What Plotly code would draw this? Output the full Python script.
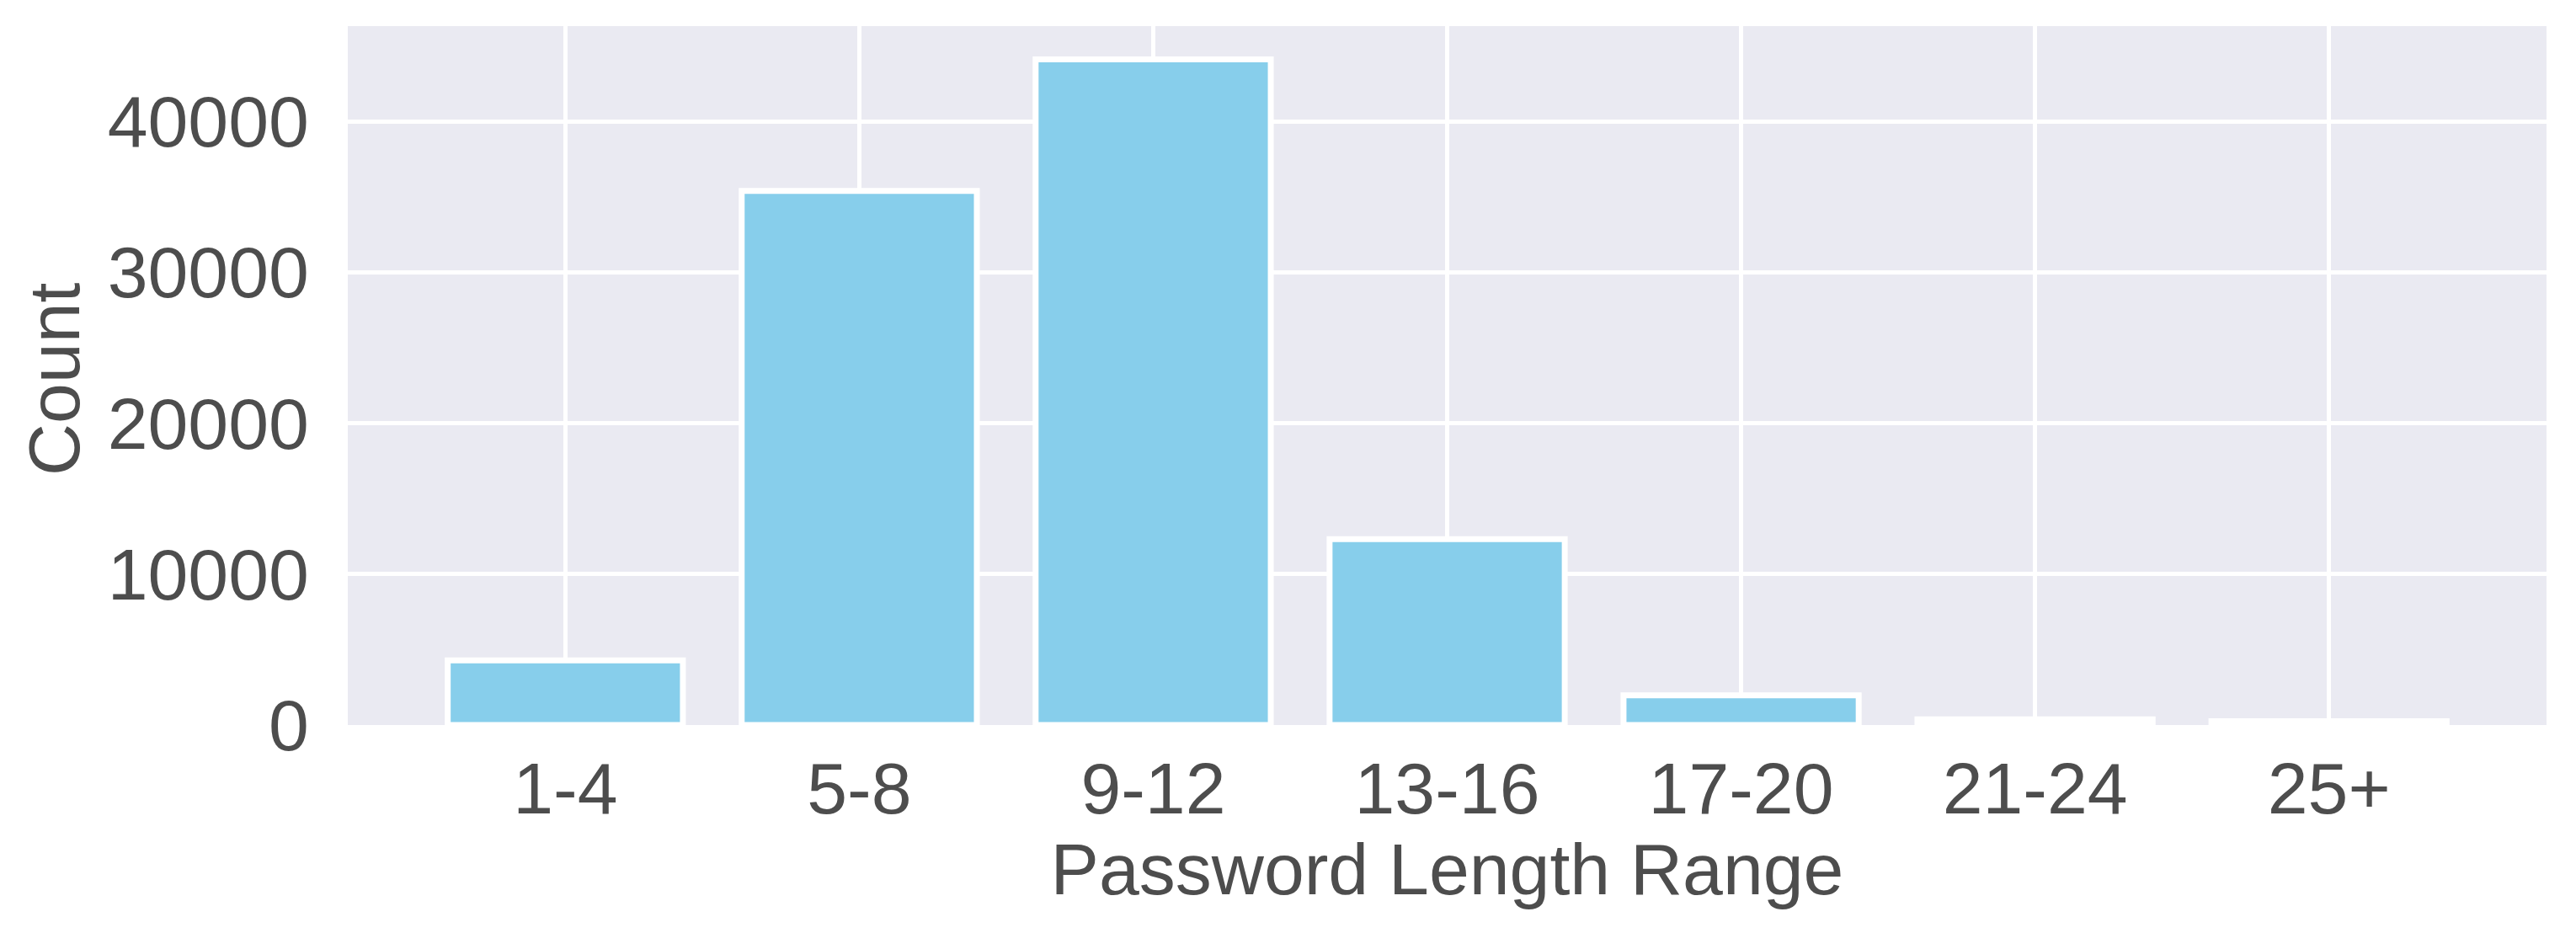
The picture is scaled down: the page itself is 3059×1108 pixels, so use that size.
import plotly.graph_objects as go

categories = ["1-4", "5-8", "9-12", "13-16", "17-20", "21-24", "25+"]
counts = [4280, 35380, 44100, 12320, 1970, 370, 250]
y_ticks = [0, 10000, 20000, 30000, 40000]

font_family = "Arial, Liberation Sans, Helvetica, sans-serif"
text_color = "#4d4d4d"
fs = 86

fig = go.Figure(
    go.Bar(
        x=list(range(len(categories))),
        y=counts,
        width=0.8,
        marker=dict(color="#87CEEB", line=dict(color="white", width=7)),
    )
)

fig.update_layout(
    width=3059,
    height=1108,
    margin=dict(l=405, r=43, t=23, b=255, autoexpand=False),
    paper_bgcolor="white",
    plot_bgcolor="#EAEAF2",
    font=dict(family=font_family, size=fs, color=text_color),
    showlegend=False,
)

fig.update_xaxes(
    range=[-0.74, 6.74],
    tickmode="array",
    tickvals=list(range(len(categories))),
    ticktext=categories,
    showgrid=True,
    gridcolor="white",
    gridwidth=5,
    zeroline=False,
    showline=False,
    automargin=False,
    ticks="outside",
    ticklen=1,
    tickcolor="rgba(0,0,0,0)",
    tickfont=dict(size=fs, color=text_color),
    title=dict(text="Password Length Range", font=dict(size=fs, color=text_color), standoff=10),
)

fig.update_yaxes(
    range=[0, 46305],
    tickmode="array",
    tickvals=y_ticks,
    ticktext=[str(v) for v in y_ticks],
    showgrid=True,
    gridcolor="white",
    gridwidth=5,
    zeroline=False,
    showline=False,
    automargin=False,
    ticks="outside",
    ticklen=28,
    tickcolor="rgba(0,0,0,0)",
    tickfont=dict(size=fs, color=text_color),
)

fig.add_annotation(
    text="Count",
    textangle=-90,
    xref="paper",
    yref="paper",
    x=0,
    y=0.5,
    xanchor="center",
    yanchor="middle",
    xshift=-349,
    yshift=-4,
    showarrow=False,
    font=dict(size=fs, color=text_color),
)

fig.write_html("out.html")
